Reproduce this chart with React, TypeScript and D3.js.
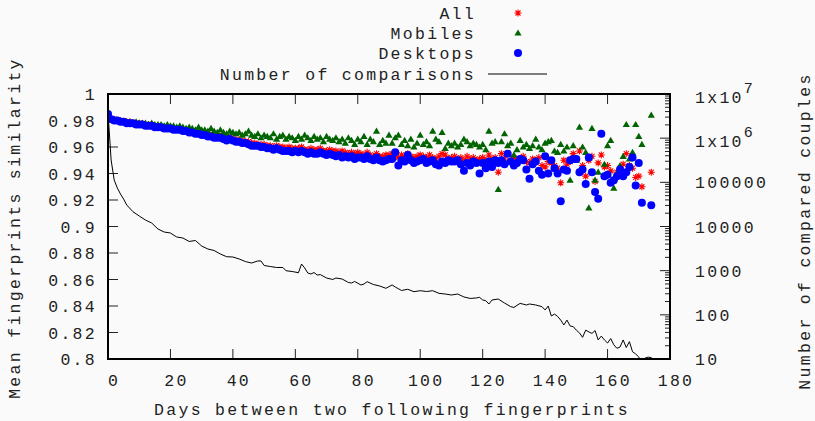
import React from 'react';
import * as d3 from 'd3';

// similarity per day (index = days between fingerprints)
const allSim = [0.985,
  0.981, 0.981, 0.980, 0.980, 0.979, 0.979, 0.979, 0.978, 0.978, 0.978,
  0.977, 0.977, 0.977, 0.976, 0.976, 0.976, 0.975, 0.975, 0.975, 0.974,
  0.974, 0.974, 0.973, 0.973, 0.972, 0.972, 0.972, 0.971, 0.971, 0.970,
  0.970, 0.969, 0.969, 0.968, 0.968, 0.968, 0.967, 0.967, 0.967, 0.966,
  0.966, 0.965, 0.965, 0.964, 0.964, 0.963, 0.963, 0.962, 0.962, 0.962,
  0.961, 0.961, 0.960, 0.961, 0.960, 0.960, 0.959, 0.960, 0.959, 0.959,
  0.959, 0.960, 0.958, 0.958, 0.959, 0.958, 0.958, 0.959, 0.957, 0.957,
  0.958, 0.957, 0.957, 0.956, 0.957, 0.956, 0.955, 0.956, 0.955, 0.956,
  0.955, 0.954, 0.956, 0.954, 0.953, 0.955, 0.953, 0.953, 0.954, 0.954,
  0.955, 0.953, 0.952, 0.954, 0.953, 0.955, 0.953, 0.952, 0.953, 0.954,
  0.953, 0.952, 0.954, 0.952, 0.951, 0.953, 0.955, 0.954, 0.951, 0.952,
  0.953, 0.951, 0.952, 0.950, 0.953, 0.951, 0.952, 0.950, 0.951, 0.952,
  0.950, 0.954, 0.951, 0.952, 0.941, 0.955, 0.951, 0.955, 0.949, 0.952,
  0.950, 0.951, 0.953, 0.949, 0.948, 0.951, 0.950, 0.952, 0.946, 0.945,
  0.949, 0.948, 0.946, 0.944, 0.933, 0.950, 0.947, 0.949, 0.955, 0.951,
  0.957, 0.946, 0.938, 0.950, 0.953, 0.934, 0.948, 0.954, 0.945, 0.946,
  0.942, 0.935, 0.941, 0.944, 0.947, 0.955, 0.946, 0.944, 0.937, 0.938,
  0.930, null, null, 0.941];

const mobileSim = [0.985,
  0.981, 0.980, 0.980, 0.980, 0.979, 0.979, 0.979, 0.978, 0.979, 0.978,
  0.978, 0.978, 0.977, 0.978, 0.977, 0.977, 0.977, 0.976, 0.977, 0.976,
  0.976, 0.975, 0.976, 0.975, 0.974, 0.975, 0.974, 0.973, 0.975, 0.973,
  0.973, 0.972, 0.974, 0.972, 0.971, 0.973, 0.971, 0.970, 0.972, 0.971,
  0.970, 0.971, 0.969, 0.970, 0.972, 0.969, 0.968, 0.970, 0.967, 0.969,
  0.968, 0.967, 0.970, 0.966, 0.968, 0.969, 0.966, 0.968, 0.967, 0.965,
  0.968, 0.966, 0.969, 0.967, 0.965, 0.968, 0.966, 0.967, 0.964, 0.968,
  0.966, 0.965, 0.967, 0.964, 0.966, 0.963, 0.967, 0.965, 0.962, 0.966,
  0.964, 0.968, 0.962, 0.966, 0.964, 0.972, 0.962, 0.965, 0.963, 0.969,
  0.963, 0.967, 0.969, 0.962, 0.965, 0.961, 0.966, 0.960, 0.963, 0.969,
  0.962, 0.964, 0.961, 0.972, 0.966, 0.964, 0.971, 0.959, 0.963, 0.961,
  0.963, 0.960, 0.962, 0.966, 0.964, 0.961, 0.963, 0.962, 0.960, 0.962,
  0.958, 0.972, 0.963, 0.964, 0.928, 0.964, 0.970, 0.961, 0.963, 0.954,
  0.958, 0.965, 0.960, 0.962, 0.959, 0.961, 0.966, 0.960, 0.958, 0.963,
  0.964, 0.965, 0.957, 0.956, 0.962, 0.957, 0.960, 0.935, 0.961, 0.950,
  0.975, 0.960, 0.956, 0.914, 0.974, 0.935, 0.941, 0.970, 0.947, 0.961,
  0.965, 0.929, 0.940, 0.946, 0.953, 0.977, 0.951, 0.956, 0.977, 0.968,
  0.962, null, null, 0.984];

const desktopSim = [0.985,
  0.981, 0.980, 0.980, 0.979, 0.979, 0.978, 0.978, 0.978, 0.977, 0.977,
  0.977, 0.976, 0.976, 0.976, 0.975, 0.975, 0.975, 0.974, 0.974, 0.974,
  0.973, 0.973, 0.973, 0.972, 0.972, 0.971, 0.971, 0.970, 0.970, 0.969,
  0.969, 0.968, 0.968, 0.967, 0.967, 0.967, 0.966, 0.965, 0.966, 0.965,
  0.964, 0.964, 0.963, 0.963, 0.962, 0.961, 0.961, 0.961, 0.960, 0.960,
  0.959, 0.959, 0.958, 0.959, 0.958, 0.957, 0.957, 0.957, 0.956, 0.957,
  0.956, 0.957, 0.956, 0.955, 0.956, 0.955, 0.955, 0.956, 0.955, 0.954,
  0.955, 0.954, 0.953, 0.954, 0.952, 0.953, 0.952, 0.953, 0.951, 0.952,
  0.952, 0.951, 0.953, 0.951, 0.950, 0.952, 0.950, 0.949, 0.950, 0.951,
  0.951, 0.956, 0.946, 0.950, 0.949, 0.954, 0.950, 0.948, 0.949, 0.950,
  0.951, 0.948, 0.949, 0.950, 0.947, 0.946, 0.949, 0.948, 0.950, 0.949,
  0.949, 0.950, 0.947, 0.942, 0.948, 0.946, 0.949, 0.948, 0.940, 0.948,
  0.944, 0.949, 0.945, 0.950, 0.948, 0.950, 0.947, 0.955, 0.949, 0.946,
  0.948, 0.951, 0.950, 0.943, 0.936, 0.947, 0.949, 0.942, 0.939, 0.953,
  0.940, 0.950, 0.944, 0.940, 0.919, 0.943, 0.942, 0.950, 0.951, 0.951,
  0.941, 0.943, 0.932, 0.952, 0.941, 0.926, 0.921, 0.970, 0.938, 0.939,
  0.933, 0.935, 0.938, 0.943, 0.938, 0.941, 0.945, 0.952, 0.931, 0.948,
  0.918, null, null, 0.916];

// number of compared couples (right log axis)
const comparisonDays = [0, 1, 2, 3, 4, 5, 6, 8, 10, 12, 14, 16, 18, 20, 22, 24, 26, 28, 30,
  32, 34, 36, 38, 40, 42, 44, 46, 48, 49, 50, 52, 54, 56, 57, 59, 61, 62, 63, 64, 65,
  66, 67, 68, 70, 72, 73, 75, 77, 78, 79, 81, 82, 83, 85, 87, 89, 91, 92, 94, 96, 98,
  100, 102, 104, 106, 108, 110, 112, 114, 116, 118, 119, 120, 121, 122, 123, 125, 127,
  129, 130, 132, 134, 135, 137, 139, 140, 141, 142, 143, 144, 145, 146, 147, 148, 149,
  150, 151, 152, 153, 154, 155, 156, 157, 158, 159, 160, 161, 162, 163, 164, 165, 166,
  167, 168, 169, 170, 171, 172, 173, 174, 175];
const comparisonCounts = [3900000, 320000, 112000, 74000, 54300, 41800, 30700, 21600,
  17300, 14000, 12000, 8780, 7500, 7130, 5780, 5490, 4580, 4820, 3610,
  3090, 2860, 2380, 2070, 2040, 1840, 1610, 1490, 1660, 1660, 1310, 1240, 1180, 1180, 998, 957,
  899, 1415, 1150, 885, 840,
  908, 796, 815, 682, 631, 682, 647, 540, 526, 569, 474, 499, 563, 486, 450, 399, 474, 427, 356, 379, 334,
  352, 337, 352, 307, 296, 281, 296, 254, 235, 241, 249, 217, 209, 176, 217, 228, 185,
  153, 147, 182, 167, 176, 167, 153, 129, 158, 94, 104, 92, 76, 59, 76, 56, 54,
  45, 39, 31, 45, 41, 38, 44, 27, 33, 27, 23, 29, 21, 17.5, 18.7, 27, 18.2,
  24.7, 14.6, 13, 11.1, 8, 10.5, 11, 10.8, 6];

const xTicks = [0, 20, 40, 60, 80, 100, 120, 140, 160, 180];
const yTicks = [0.8, 0.82, 0.84, 0.86, 0.88, 0.9, 0.92, 0.94, 0.96, 0.98, 1];
const yTickLabels = ['0.8', '0.82', '0.84', '0.86', '0.88', '0.9', '0.92', '0.94', '0.96', '0.98', '1'];
const y2Ticks = [10, 100, 1000, 10000, 100000, 1000000, 10000000];
const y2TickLabels = ['10', '100', '1000', '10000', '100000', '1x10^6', '1x10^7'];

const W = 815;
const H = 421;
const plot = { left: 108, right: 670, top: 94, bottom: 359 };
const font = { fontFamily: '"Liberation Mono", monospace', fontSize: 16.5, letterSpacing: '2.3px' };

const x = d3.scaleLinear().domain([0, 180]).range([plot.left, plot.right]);
const y = d3.scaleLinear().domain([0.8, 1]).range([plot.bottom, plot.top]);
const y2 = d3.scaleLog().domain([10, 1e7]).range([plot.bottom, plot.top]);

const starPath = 'M-3.5,0H3.5M0,-3.5V3.5M-2.5,-2.5L2.5,2.5M-2.5,2.5L2.5,-2.5';
const triPath = 'M0,-3.6L3.6,2.6L-3.6,2.6Z';

const Star = ({ cx, cy }) => (
  <path d={starPath} transform={`translate(${cx},${cy})`} stroke="#ff0000" strokeWidth={1.1} fill="none" />
);
const Tri = ({ cx, cy }) => (
  <path d={triPath} transform={`translate(${cx},${cy})`} fill="#006400" />
);
const Dot = ({ cx, cy }) => <circle cx={cx} cy={cy} r={4} fill="#0000ff" />;

const App = () => {
  const line = d3.line<number>()
    .x((_, i) => x(comparisonDays[i]))
    .y(d => y2(d));

  // minor log ticks on the right axis
  const minor: number[] = [];
  for (let p = 10; p < 1e7; p *= 10) {
    for (let m = 2; m < 10; m++) minor.push(p * m);
  }

  const pts = (arr: (number | null)[]) =>
    arr.map((v, i) => (v == null ? null : { cx: x(i), cy: y(v), i })).filter(Boolean) as { cx: number; cy: number; i: number }[];

  return (
    <svg width={W} height={H} style={{ position: 'absolute', left: 0, top: 0, display: 'block', background: '#fafafa' }}>
      <defs>
        <clipPath id="plotClip">
          <rect x={plot.left} y={plot.top} width={plot.right - plot.left} height={plot.bottom - plot.top} />
        </clipPath>
      </defs>

      {/* ticks */}
      <g stroke="#222" strokeWidth={1}>
        {yTicks.map(t => (
          <line key={'y' + t} x1={plot.left} x2={plot.left + 10} y1={y(t)} y2={y(t)} />
        ))}
        {xTicks.map(t => (
          <g key={'x' + t}>
            <line x1={x(t)} x2={x(t)} y1={plot.bottom} y2={plot.bottom - 10} />
            <line x1={x(t)} x2={x(t)} y1={plot.top} y2={plot.top + 10} />
          </g>
        ))}
        {y2Ticks.map(t => (
          <line key={'r' + t} x1={plot.right} x2={plot.right - 10} y1={y2(t)} y2={y2(t)} />
        ))}
        {minor.map(t => (
          <line key={'m' + t} x1={plot.right} x2={plot.right - 5} y1={y2(t)} y2={y2(t)} />
        ))}
      </g>

      {/* tick labels */}
      <g style={font} fill="#222">
        {yTicks.map((t, i) => (
          <text key={'yl' + t} x={97} y={y(t) + 6} textAnchor="end">{yTickLabels[i]}</text>
        ))}
        {xTicks.map(t => (
          <text key={'xl' + t} x={x(t) + 6} y={386} textAnchor="middle">{t}</text>
        ))}
        {y2Ticks.map((t, i) => {
          const parts = y2TickLabels[i].split('^');
          const sup = parts.length > 1;
          return (
            <text key={'rl' + t} x={695} y={y2(t) + (sup ? 9 : 6)}>
              {parts[0]}
              {sup && <tspan dy={-10} fontSize={15}>{parts[1]}</tspan>}
            </text>
          );
        })}
        <text x={392} y={415} textAnchor="middle">Days between two following fingerprints</text>
        <text transform="translate(20,228) rotate(-90)" textAnchor="middle">Mean fingerprints similarity</text>
        <text transform="translate(810,231) rotate(-90)" textAnchor="middle">Number of compared couples</text>
      </g>

      {/* series */}
      <g clipPath="url(#plotClip)">
        {pts(allSim).map(p => <Star key={'a' + p.i} cx={p.cx} cy={p.cy} />)}
        {pts(mobileSim).map(p => <Tri key={'mo' + p.i} cx={p.cx} cy={p.cy} />)}
        {pts(desktopSim).map(p => <Dot key={'d' + p.i} cx={p.cx} cy={p.cy} />)}
        <path d={line(comparisonCounts) || ''} fill="none" stroke="#000" strokeWidth={1} />
      </g>

      {/* border */}
      <rect x={plot.left} y={plot.top} width={plot.right - plot.left} height={plot.bottom - plot.top}
        fill="none" stroke="#000" strokeWidth={2} />

      {/* legend */}
      <g style={font} fill="#222">
        <text x={476} y={19} textAnchor="end">All</text>
        <text x={476} y={39} textAnchor="end">Mobiles</text>
        <text x={476} y={59} textAnchor="end">Desktops</text>
        <text x={476} y={80} textAnchor="end">Number of comparisons</text>
      </g>
      <Star cx={518} cy={13} />
      <Tri cx={518} cy={33} />
      <Dot cx={518} cy={53} />
      <line x1={488} x2={547} y1={74} y2={74} stroke="#000" strokeWidth={1} />
    </svg>
  );
};

export default App;
